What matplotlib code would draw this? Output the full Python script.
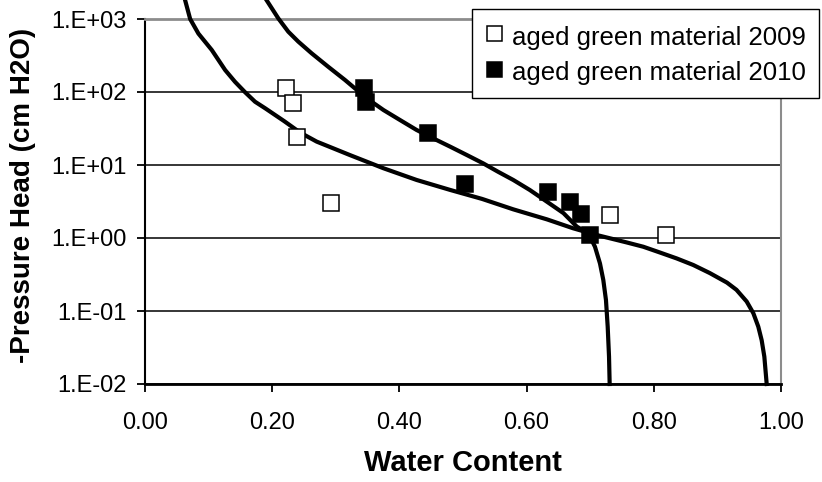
import matplotlib
matplotlib.use('Agg')
import matplotlib.pyplot as plt
from matplotlib.ticker import FixedLocator, FuncFormatter, NullLocator
import numpy as np

plt.rcParams['font.family'] = ['Liberation Sans', 'DejaVu Sans']

# measured retention data
theta_2009 = [0.222, 0.232, 0.239, 0.292, 0.731, 0.819]
head_2009 = [113, 71, 24.5, 3.0, 2.09, 1.09]

theta_2010 = [0.345, 0.347, 0.445, 0.503, 0.633, 0.668, 0.686, 0.699]
head_2010 = [112, 73, 27.5, 5.5, 4.3, 3.14, 2.1, 1.1]

# fitted retention curves
fit_theta_2009 = [0.063, 0.071, 0.084, 0.105, 0.126, 0.1415, 0.157, 0.173, 0.189, 0.219,
                  0.244, 0.270, 0.322, 0.375, 0.427, 0.480, 0.530, 0.579, 0.632, 0.673,
                  0.710, 0.757, 0.7835, 0.810, 0.836, 0.862, 0.888, 0.915, 0.930, 0.946,
                  0.9565, 0.9643, 0.9696, 0.9738, 0.9775]
fit_head_2009 = [1820, 1000, 631, 376, 200, 138, 100, 73.6, 59.8, 39.8,
                 27.8, 20.9, 13.7, 9.02, 6.24, 4.55, 3.43, 2.47, 1.80, 1.36,
                 1.10, 0.871, 0.759, 0.631, 0.525, 0.427, 0.331, 0.245, 0.195, 0.135,
                 0.0933, 0.061, 0.0398, 0.0237, 0.01]

fit_theta_2010 = [0.191, 0.2096, 0.2253, 0.241, 0.262, 0.288, 0.3145, 0.3486, 0.375, 0.401,
                  0.427, 0.453, 0.480, 0.506, 0.532, 0.555, 0.579, 0.605, 0.632, 0.658,
                  0.679, 0.697, 0.7075, 0.7154, 0.7206, 0.7248, 0.7275, 0.7296, 0.7306]
fit_head_2010 = [1820, 1020, 670, 490, 339, 222, 146, 82.0, 56.6, 41.3,
                 30.2, 23.2, 17.8, 13.7, 10.5, 8.09, 6.24, 4.55, 3.14, 2.19,
                 1.43, 1.16, 0.759, 0.447, 0.266, 0.141, 0.061, 0.0237, 0.01]

x_ticks = [0.0, 0.2, 0.4, 0.6, 0.8, 1.0]
y_ticks = [1e-2, 1e-1, 1e0, 1e1, 1e2, 1e3]

fig = plt.figure(figsize=(8.22, 4.82), dpi=100)
ax = fig.add_axes([145 / 822, 1 - 384 / 482, 636 / 822, 365 / 482])

ax.plot(fit_theta_2009, fit_head_2009, '-', color='black', lw=3.0, clip_on=False,
        solid_joinstyle='round', zorder=3)
ax.plot(fit_theta_2010, fit_head_2010, '-', color='black', lw=3.0, clip_on=False,
        solid_joinstyle='round', zorder=3)

ax.plot(theta_2009, head_2009, 's', ms=12, mfc='white', mec='black', mew=1.1,
        label='aged green material 2009', zorder=4)
ax.plot(theta_2010, head_2010, 's', ms=12, mfc='black', mec='black', mew=1.1,
        label='aged green material 2010', zorder=4)

ax.set_yscale('log')
ax.set_xlim(0, 1)
ax.set_ylim(1e-2, 1e3)
ax.xaxis.set_major_locator(FixedLocator(x_ticks))
ax.xaxis.set_major_formatter(FuncFormatter(lambda v, p: '%.2f' % v))
ax.yaxis.set_major_locator(FixedLocator(y_ticks))
ax.yaxis.set_minor_locator(NullLocator())
ax.yaxis.set_major_formatter(FuncFormatter(lambda v, p: '1.E%+03d' % round(np.log10(v))))

ax.tick_params(axis='both', labelsize=17, length=6, width=1.3, color='black', direction='out')
ax.tick_params(axis='y', pad=7)
ax.tick_params(axis='x', pad=14)

ax.grid(axis='y', color='black', lw=1.1)
ax.set_axisbelow('line')
ax.spines['left'].set_linewidth(1.5)
ax.spines['bottom'].set_linewidth(2)
ax.spines['top'].set_color('#8c8c8c')
ax.spines['top'].set_linewidth(2)
ax.spines['right'].set_color('#8c8c8c')
ax.spines['right'].set_linewidth(1.5)

ax.set_xlabel('Water Content', fontsize=21, fontweight='bold', va='center')
ax.xaxis.set_label_coords(0.5, -0.216)
ax.set_ylabel('-Pressure Head (cm H2O)', fontsize=20, fontweight='bold', va='center')
ax.yaxis.set_label_coords(-0.192, 0.516)

leg = ax.legend(loc='upper right', bbox_to_anchor=(819 / 822, 1 - 9 / 482),
                bbox_transform=fig.transFigure, fontsize=18.5, frameon=True,
                fancybox=False, framealpha=1, edgecolor='black', borderpad=0.5,
                labelspacing=0.27, handleheight=1.32, handlelength=0.7,
                handletextpad=0.35, borderaxespad=0, markerscale=0.9)
leg.get_frame().set_linewidth(1.0)
leg.set_zorder(5)

fig.savefig('out.png', dpi=100)
